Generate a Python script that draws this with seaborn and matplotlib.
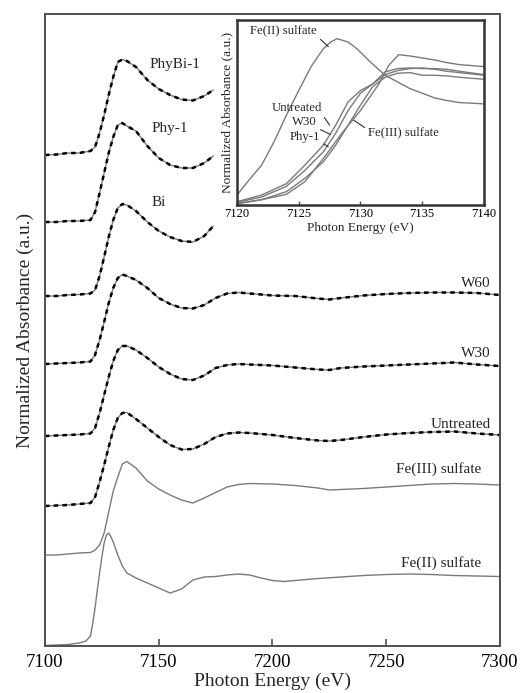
import matplotlib
matplotlib.use("Agg")
import matplotlib.pyplot as plt
import numpy as np
import pandas as pd
import seaborn as sns

# ---------------- data (stacked, arbitrary units) ----------------
energy_short = [7100, 7105, 7110, 7115, 7120, 7122, 7124, 7126, 7128, 7130, 7132,
                7134, 7136, 7140, 7145, 7150, 7155, 7160, 7165, 7170, 7174]
energy_long = [7100, 7105, 7110, 7115, 7120, 7122, 7124, 7126, 7128, 7130, 7132,
               7134, 7136, 7140, 7145, 7150, 7155, 7160, 7165, 7170, 7175, 7180,
               7185, 7190, 7200, 7210, 7220, 7225, 7230, 7240, 7250, 7260, 7270,
               7280, 7290, 7300]
energy_fe2 = [7100, 7105, 7110, 7115, 7118, 7120, 7121, 7122, 7123, 7124, 7125,
              7126, 7127, 7128, 7129, 7130, 7132, 7134, 7136, 7140, 7145, 7150,
              7155, 7160, 7165, 7170, 7175, 7180, 7185, 7190, 7195, 7200, 7205,
              7210, 7220, 7230, 7240, 7250, 7260, 7270, 7280, 7290, 7300]

phybi1 = [4.91, 4.915, 4.93, 4.93, 4.95, 4.99, 5.13, 5.31, 5.51, 5.69, 5.84,
          5.865, 5.85, 5.79, 5.66, 5.57, 5.51, 5.465, 5.455, 5.50, 5.56]
phy1 = [4.24, 4.24, 4.25, 4.25, 4.26, 4.34, 4.53, 4.73, 4.93, 5.09, 5.21,
        5.23, 5.20, 5.15, 5.00, 4.88, 4.81, 4.78, 4.78, 4.83, 4.90]
bi = [3.50, 3.50, 3.51, 3.515, 3.525, 3.56, 3.70, 3.89, 4.09, 4.26, 4.38,
      4.42, 4.41, 4.35, 4.24, 4.15, 4.09, 4.05, 4.04, 4.10, 4.20]
w60 = [2.82, 2.825, 2.83, 2.835, 2.845, 2.91, 3.06, 3.24, 3.43, 3.58, 3.68,
       3.715, 3.70, 3.66, 3.58, 3.48, 3.42, 3.38, 3.375, 3.41, 3.48, 3.525,
       3.535, 3.525, 3.505, 3.50, 3.475, 3.465, 3.48, 3.505, 3.52, 3.53, 3.535,
       3.535, 3.53, 3.51]
w30 = [2.10, 2.105, 2.11, 2.115, 2.125, 2.18, 2.33, 2.51, 2.69, 2.85, 2.96,
       3.00, 3.00, 2.96, 2.88, 2.79, 2.72, 2.67, 2.66, 2.705, 2.78, 2.81,
       2.82, 2.815, 2.805, 2.785, 2.765, 2.76, 2.78, 2.795, 2.805, 2.815, 2.825,
       2.835, 2.815, 2.80]
untreated = [1.40, 1.405, 1.41, 1.42, 1.43, 1.49, 1.64, 1.81, 1.99, 2.16, 2.28,
             2.33, 2.335, 2.27, 2.18, 2.09, 2.01, 1.965, 1.97, 2.02, 2.09, 2.125,
             2.135, 2.13, 2.11, 2.08, 2.055, 2.05, 2.06, 2.09, 2.115, 2.13, 2.14,
             2.145, 2.125, 2.11]
fe3_sulfate = [0.91, 0.91, 0.92, 0.93, 0.935, 0.96, 1.01, 1.13, 1.34, 1.55, 1.69,
               1.82, 1.845, 1.78, 1.65, 1.57, 1.51, 1.46, 1.43, 1.48, 1.535, 1.59,
               1.615, 1.625, 1.62, 1.605, 1.58, 1.56, 1.565, 1.575, 1.59, 1.605, 1.62,
               1.625, 1.62, 1.61]
fe2_sulfate = [0.005, 0.01, 0.015, 0.03, 0.05, 0.10, 0.23, 0.38, 0.56, 0.73, 0.89,
               1.03, 1.11, 1.13, 1.09, 1.04, 0.91, 0.80, 0.73, 0.68, 0.63, 0.58,
               0.53, 0.57, 0.66, 0.69, 0.695, 0.71, 0.72, 0.71, 0.68, 0.655, 0.645,
               0.655, 0.675, 0.69, 0.705, 0.715, 0.72, 0.715, 0.705, 0.70, 0.695]

# inset (normalized absorbance, edge region)
inset_energy = [7120, 7122, 7124, 7125.5, 7127, 7128, 7129, 7130, 7131, 7132,
                7133, 7134, 7135, 7136, 7137, 7138, 7140]
inset_untreated = [0.025, 0.075, 0.16, 0.30, 0.45, 0.60, 0.775, 0.86, 0.91, 0.98,
                   1.01, 1.025, 1.03, 1.02, 1.005, 0.995, 0.975]
inset_w30 = [0.02, 0.06, 0.14, 0.26, 0.40, 0.54, 0.71, 0.84, 0.91, 1.00,
             1.025, 1.03, 1.025, 1.025, 1.02, 1.005, 0.98]
inset_phy1 = [0.01, 0.04, 0.10, 0.20, 0.325, 0.45, 0.60, 0.75, 0.89, 0.96,
              0.99, 0.995, 0.975, 0.975, 0.97, 0.96, 0.945]
inset_fe3_energy = [7120, 7122, 7124, 7125.5, 7127, 7128.5, 7130, 7131.5, 7132.3,
                    7133.1, 7134, 7135, 7136, 7137, 7138, 7140]
inset_fe3 = [0.01, 0.04, 0.08, 0.175, 0.35, 0.54, 0.71, 0.91, 1.05,
             1.13, 1.12, 1.105, 1.09, 1.07, 1.055, 1.04]
inset_fe2_energy = [7120, 7121, 7122, 7123, 7124, 7125, 7126, 7127, 7127.6, 7128.1,
                    7129, 7129.7, 7130.8, 7132, 7133, 7134, 7135, 7136, 7137, 7138, 7140]
inset_fe2 = [0.075, 0.19, 0.30, 0.475, 0.675, 0.86, 1.04, 1.175, 1.225, 1.25,
             1.225, 1.175, 1.075, 0.975, 0.925, 0.875, 0.84, 0.805, 0.785, 0.77, 0.76]

main_ticks = [7100, 7150, 7200, 7250, 7300]
inset_ticks = [7120, 7125, 7130, 7135, 7140]

# ---------------- style ----------------
sns.set_style("ticks")
plt.rcParams['font.family'] = ['Liberation Serif', 'DejaVu Serif']

GRAY = "#7a7a7a"
SPINE = "#505050"

fig = plt.figure(figsize=(5.22, 6.93), dpi=100)
ax = fig.add_axes([0.0862, 0.0678, 0.8716, 0.912])

samples = [
    (energy_short, phybi1, True),
    (energy_short, phy1, True),
    (energy_short, bi, True),
    (energy_long, w60, True),
    (energy_long, w30, True),
    (energy_long, untreated, True),
    (energy_long, fe3_sulfate, False),
    (energy_fe2, fe2_sulfate, False),
]
for xs, ys, has_fit in samples:
    df = pd.DataFrame({"E": xs, "A": ys})
    sns.lineplot(data=df, x="E", y="A", ax=ax, color=GRAY, lw=1.0,
                 estimator=None, sort=False)
    if has_fit:
        sns.lineplot(data=df, x="E", y="A", ax=ax, color="black", lw=1.8,
                     estimator=None, sort=False, linestyle=(0, (1.8, 1.7)))

ax.set_xlim(7100, 7300)
ax.set_ylim(0, 6.32)
ax.set_xticks(main_ticks)
ax.set_yticks([])
ax.tick_params(axis='x', direction='in', length=5, width=1.2, pad=6,
               labelsize=13.5, colors=SPINE, labelcolor='black')
for s in ax.spines.values():
    s.set_visible(True)
    s.set_color(SPINE)
    s.set_linewidth(1.4)
ax.set_xlabel("Photon Energy (eV)", fontsize=14, labelpad=1)
ax.set_ylabel("Normalized Absorbance (a.u.)", fontsize=14, labelpad=8)

lab_fs = 11
ax.text(7146, 5.81, "PhyBi-1", fontsize=lab_fs, ha='left', va='center')
ax.text(7147, 5.18, "Phy-1", fontsize=lab_fs, ha='left', va='center')
ax.text(7147, 4.44, "Bi", fontsize=lab_fs, ha='left', va='center')
ax.text(7296, 3.63, "W60", fontsize=lab_fs, ha='right', va='center')
ax.text(7296, 2.93, "W30", fontsize=lab_fs, ha='right', va='center')
ax.text(7296, 2.22, "Untreated", fontsize=lab_fs, ha='right', va='center')
ax.text(7291.6, 1.77, "Fe(III) sulfate", fontsize=lab_fs, ha='right', va='center')
ax.text(7291.6, 0.83, "Fe(II) sulfate", fontsize=lab_fs, ha='right', va='center')

# ---------------- inset ----------------
axi = fig.add_axes([0.454, 0.7042, 0.473, 0.2669])
axi.set_facecolor("white")
for xs, ys in [(inset_fe2_energy, inset_fe2), (inset_fe3_energy, inset_fe3),
               (inset_energy, inset_untreated), (inset_energy, inset_w30),
               (inset_energy, inset_phy1)]:
    sns.lineplot(x=xs, y=ys, ax=axi, color=GRAY, lw=1.0, estimator=None, sort=False)
axi.set_xlim(7120, 7140)
axi.set_ylim(0, 1.39)
axi.set_xticks(inset_ticks)
axi.set_yticks([])
axi.tick_params(axis='x', direction='in', length=3, width=1.0, pad=2.5,
                labelsize=9, colors=SPINE, labelcolor='black')
for s in axi.spines.values():
    s.set_visible(True)
    s.set_color("#333333")
    s.set_linewidth(1.8)
axi.set_xlabel("Photon Energy (eV)", fontsize=9.5, labelpad=1)
axi.set_ylabel("Normalized Absorbance (a.u.)", fontsize=9.6, labelpad=3)

ins_fs = 9.2
arrow = dict(arrowstyle='-', color='#333333', lw=0.8, shrinkA=0, shrinkB=0)
axi.annotate("Fe(II) sulfate", xy=(7127.4, 1.19), xytext=(7126.5, 1.3125),
             fontsize=ins_fs, ha='right', va='center',
             arrowprops=dict(arrow, relpos=(1, 0)))
axi.annotate("Untreated", xy=(7127.5, 0.60), xytext=(7126.9, 0.7275),
             fontsize=ins_fs, ha='right', va='center',
             arrowprops=dict(arrow, relpos=(1, 0)))
axi.annotate("W30", xy=(7127.57, 0.53), xytext=(7126.5, 0.6225),
             fontsize=ins_fs, ha='right', va='center',
             arrowprops=dict(arrow, relpos=(1, 0)))
axi.annotate("Phy-1", xy=(7127.4, 0.4375), xytext=(7126.75, 0.51),
             fontsize=ins_fs, ha='right', va='center',
             arrowprops=dict(arrow, relpos=(1, 0.1)))
axi.annotate("Fe(III) sulfate", xy=(7129.46, 0.6375), xytext=(7130.6, 0.5475),
             fontsize=ins_fs, ha='left', va='center',
             arrowprops=dict(arrow, relpos=(0, 0.7)))

fig.savefig("out.png", dpi=100)
